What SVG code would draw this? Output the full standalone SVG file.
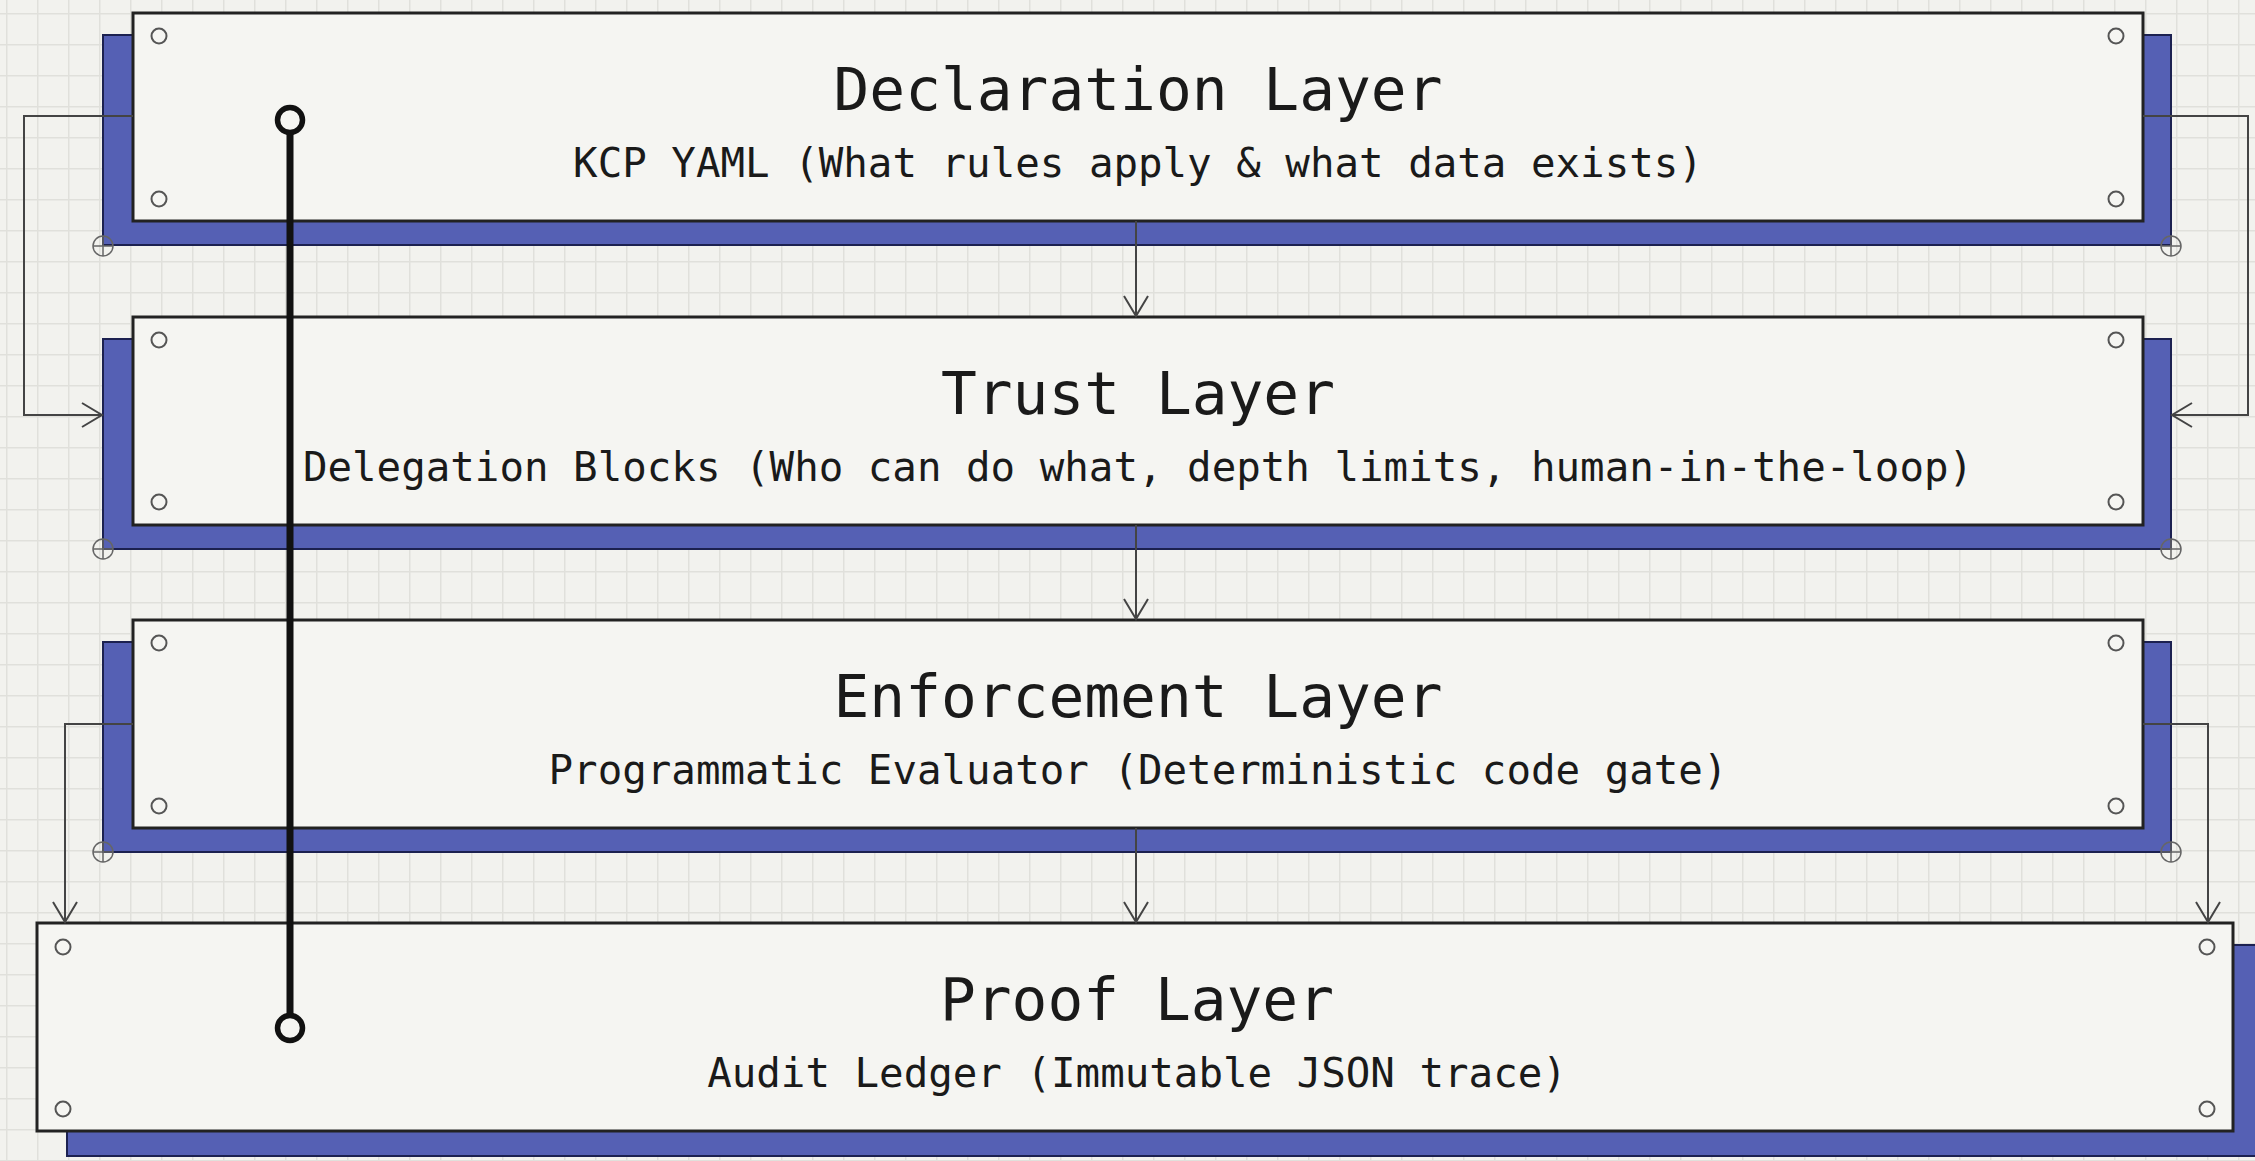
<svg xmlns="http://www.w3.org/2000/svg" width="2255" height="1161" viewBox="0 0 2255 1161">
  <defs>
    <pattern id="grid" patternUnits="userSpaceOnUse" x="6" y="13" width="31" height="31">
      <rect x="0" y="0" width="1.5" height="31" fill="#e0e0db"/>
      <rect x="0" y="0" width="31" height="1.5" fill="#e0e0db"/>
    </pattern>
    <marker id="arrow" viewBox="0 0 24 28" refX="22" refY="14" markerWidth="24" markerHeight="28" markerUnits="userSpaceOnUse" orient="auto">
      <path d="M2,2 L22,14 L2,26" fill="none" stroke="#444" stroke-width="2"/>
    </marker>
    <g id="crosshair">
      <circle r="10" fill="none" stroke="#666" stroke-width="1.5"/>
      <path d="M-10,0 H10 M0,-10 V10" stroke="#666" stroke-width="1.5"/>
    </g>
  </defs>
  <style>
    .shadow { fill: #5560b4; stroke: #1c2150; stroke-width: 2; }
    .box { fill: #f5f5f2; stroke: #222; stroke-width: 3; }
    .rivet { fill: none; stroke: #555; stroke-width: 2; }
    .title { font-family: "DejaVu Sans Mono", "Liberation Mono", monospace; font-size: 59.5px; fill: #1a1a1a; text-anchor: middle; }
    .sub { font-family: "DejaVu Sans Mono", "Liberation Mono", monospace; font-size: 40.8px; fill: #1a1a1a; text-anchor: middle; }
    .link { fill: none; stroke: #444; stroke-width: 2; }
    .spine { fill: none; stroke: #111; stroke-width: 7; }
    .spine-end { fill: #f5f5f2; stroke: #111; stroke-width: 5.5; }
  </style>

  <!-- paper background with grid -->
  <rect width="2255" height="1161" fill="#f2f2ee"/>
  <rect width="2255" height="1161" fill="url(#grid)"/>

  <!-- Declaration layer -->
  <g id="declaration-layer">
    <rect class="shadow" x="103" y="35" width="2068" height="210"/>
    <rect class="box" x="133" y="13" width="2010" height="208"/>
    <circle class="rivet" cx="159" cy="36" r="7.5"/>
    <circle class="rivet" cx="159" cy="199" r="7.5"/>
    <circle class="rivet" cx="2116" cy="36" r="7.5"/>
    <circle class="rivet" cx="2116" cy="199" r="7.5"/>
    <use href="#crosshair" x="103" y="246"/>
    <use href="#crosshair" x="2171" y="246"/>
    <text class="title" x="1138" y="110">Declaration Layer</text>
    <text class="sub" x="1138" y="177">KCP YAML (What rules apply &amp; what data exists)</text>
  </g>

  <!-- Trust layer -->
  <g id="trust-layer">
    <rect class="shadow" x="103" y="339" width="2068" height="210"/>
    <rect class="box" x="133" y="317" width="2010" height="208"/>
    <circle class="rivet" cx="159" cy="340" r="7.5"/>
    <circle class="rivet" cx="159" cy="502" r="7.5"/>
    <circle class="rivet" cx="2116" cy="340" r="7.5"/>
    <circle class="rivet" cx="2116" cy="502" r="7.5"/>
    <use href="#crosshair" x="103" y="549"/>
    <use href="#crosshair" x="2171" y="549"/>
    <text class="title" x="1138" y="414">Trust Layer</text>
    <text class="sub" x="1138" y="481">Delegation Blocks (Who can do what, depth limits, human-in-the-loop)</text>
  </g>

  <!-- Enforcement layer -->
  <g id="enforcement-layer">
    <rect class="shadow" x="103" y="642" width="2068" height="210"/>
    <rect class="box" x="133" y="620" width="2010" height="208"/>
    <circle class="rivet" cx="159" cy="643" r="7.5"/>
    <circle class="rivet" cx="159" cy="806" r="7.5"/>
    <circle class="rivet" cx="2116" cy="643" r="7.5"/>
    <circle class="rivet" cx="2116" cy="806" r="7.5"/>
    <use href="#crosshair" x="103" y="852"/>
    <use href="#crosshair" x="2171" y="852"/>
    <text class="title" x="1138" y="717">Enforcement Layer</text>
    <text class="sub" x="1138" y="784">Programmatic Evaluator (Deterministic code gate)</text>
  </g>

  <!-- Proof layer -->
  <g id="proof-layer">
    <rect class="shadow" x="67" y="945" width="2200" height="211"/>
    <rect class="box" x="37" y="923" width="2196" height="208"/>
    <circle class="rivet" cx="63" cy="947" r="7.5"/>
    <circle class="rivet" cx="63" cy="1109" r="7.5"/>
    <circle class="rivet" cx="2207" cy="947" r="7.5"/>
    <circle class="rivet" cx="2207" cy="1109" r="7.5"/>
    <text class="title" x="1137" y="1020">Proof Layer</text>
    <text class="sub" x="1137" y="1087">Audit Ledger (Immutable JSON trace)</text>
  </g>

  <!-- connectors -->
  <g id="connectors">
    <path class="link" d="M1136,221 V316" marker-end="url(#arrow)"/>
    <path class="link" d="M1136,525 V619" marker-end="url(#arrow)"/>
    <path class="link" d="M1136,828 V922" marker-end="url(#arrow)"/>
    <path class="link" d="M133,116 H24 V415 H102" marker-end="url(#arrow)"/>
    <path class="link" d="M2143,116 H2248 V415 H2172" marker-end="url(#arrow)"/>
    <path class="link" d="M133,724 H65 V922" marker-end="url(#arrow)"/>
    <path class="link" d="M2143,724 H2208 V922" marker-end="url(#arrow)"/>
    <!-- thick spine running from the declaration layer down to the proof layer -->
    <path class="spine" d="M290,124 V1024"/>
    <circle class="spine-end" cx="290" cy="120" r="12.5"/>
    <circle class="spine-end" cx="290" cy="1028" r="12.5"/>
  </g>
</svg>
